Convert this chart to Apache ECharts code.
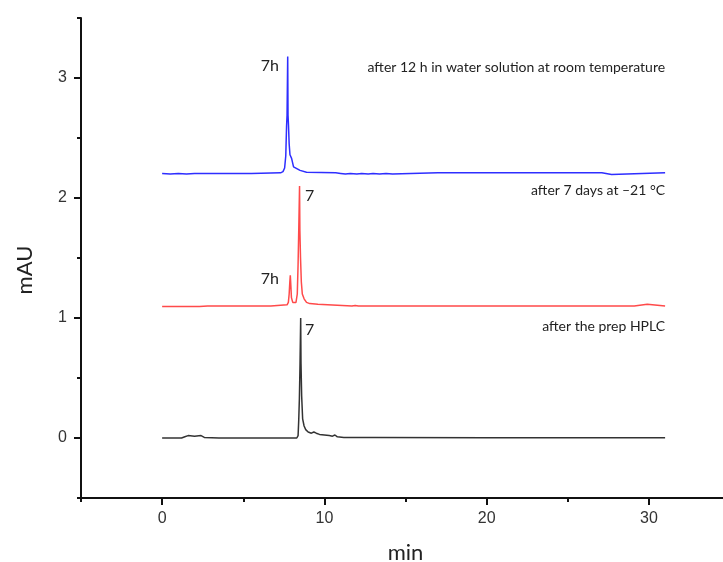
<!DOCTYPE html>
<html>
<head>
<meta charset="utf-8">
<script src="https://cdn.jsdelivr.net/npm/echarts@6/dist/echarts.min.js"></script>
<style>html,body{margin:0;padding:0;background:#fff;overflow:hidden}#c{width:723px;height:562px}</style>
</head>
<body>
<div id="c"></div>
<script>
// ---- data ----
var xMajorTicks = [0, 10, 20, 30];
var xMinorTicks = [-5, 5, 15, 25, 35];
var yMajorTicks = [0, 1, 2, 3];
var yMinorTicks = [-0.5, 0.5, 1.5, 2.5, 3.5];

var blackTrace = [[0,0],[1.2,0],[1.4,0.01],[1.6,0.02],[2.0,0.015],[2.4,0.02],[2.6,0.005],[3.5,0],[8.3,0],[8.38,0.02],[8.42,0.15],[8.46,0.33],[8.5,0.62],[8.54,1.0],[8.56,0.62],[8.6,0.35],[8.66,0.16],[8.75,0.1],[8.85,0.07],[9.0,0.05],[9.2,0.04],[9.35,0.05],[9.42,0.065],[9.5,0.04],[9.7,0.03],[10.0,0.025],[10.3,0.02],[10.5,0.015],[10.65,0.025],[10.8,0.01],[11.2,0.005],[12.9,0.005],[13.0,0.02],[13.1,0.005],[20,0.003],[31,0.003]];

var redTrace = [[0,1.095],[2.3,1.095],[2.4,1.105],[2.8,1.1],[6.7,1.1],[6.8,1.11],[7.7,1.11],[7.78,1.13],[7.83,1.2],[7.87,1.3],[7.9,1.355],[7.93,1.28],[7.97,1.17],[8.05,1.13],[8.15,1.12],[8.25,1.13],[8.33,1.2],[8.38,1.45],[8.42,1.73],[8.47,2.1],[8.49,1.73],[8.53,1.5],[8.58,1.3],[8.64,1.2],[8.75,1.16],[8.9,1.13],[9.1,1.12],[9.6,1.115],[9.7,1.1],[11.7,1.1],[11.8,1.09],[11.9,1.105],[12.0,1.09],[12.1,1.1],[16.6,1.1],[16.7,1.105],[16.8,1.1],[23.2,1.1],[23.3,1.11],[23.4,1.1],[24.0,1.1],[24.1,1.105],[24.2,1.1],[29.1,1.1],[29.2,1.115],[29.9,1.115],[30.0,1.1],[31,1.1]];

var blueTrace = [[0,2.205],[0.5,2.2],[1,2.205],[1.5,2.2],[2,2.205],[3,2.205],[5.5,2.205],[5.6,2.21],[7.3,2.21],[7.45,2.22],[7.55,2.25],[7.62,2.35],[7.67,2.6],[7.7,2.69],[7.74,3.18],[7.76,2.69],[7.79,2.6],[7.83,2.45],[7.88,2.36],[7.98,2.33],[8.1,2.26],[8.2,2.245],[8.5,2.23],[8.9,2.215],[10.7,2.21],[10.8,2.2],[11.0,2.205],[11.3,2.2],[11.6,2.205],[12.0,2.2],[12.3,2.205],[12.7,2.2],[13.0,2.205],[13.4,2.2],[13.8,2.205],[14.2,2.2],[14.3,2.21],[17,2.21],[20,2.21],[27.1,2.21],[27.2,2.195],[27.7,2.195],[27.8,2.21],[31,2.21]];

var traceNames = ['after the prep HPLC', 'after 7 days at \u201321 \u00b0C', 'after 12 h in water solution at room temperature'];
var peakLabels = ['7', '7h', '7', '7h'];

// ---- chart ----
var chart = echarts.init(document.getElementById('c'), null, {renderer: 'canvas', width: 723, height: 562});
var lineCol = '#111';
var lblFont = {fontFamily: 'Liberation Sans', fontSize: 16, color: '#333'};
var annFont = 'Lato';

function lineSeries(name, data, color) {
  return {
    name: name, type: 'line', data: data, showSymbol: false, symbol: 'none',
    xAxisIndex: 0, yAxisIndex: 0,
    lineStyle: {color: color, width: 1.5}, itemStyle: {color: color},
    animation: false, clip: false, z: 3
  };
}
function tickAxis(min, max, interval, pos, values, len) {
  return {
    type: 'value', min: min, max: max, interval: interval, position: pos,
    axisLine: {show: false, onZero: false},
    axisTick: {show: true, length: len, lineStyle: {width: 2, color: lineCol}, customValues: values},
    axisLabel: {show: false}, splitLine: {show: false}
  };
}

var option = {
  animation: false,
  backgroundColor: '#fff',
  grid: {left: 81, top: 18, width: 649, height: 480, containLabel: false, outerBoundsMode: 'none'},
  xAxis: [{
    type: 'value', min: -5, max: 35, interval: 5, position: 'bottom',
    name: 'min', nameLocation: 'middle', nameGap: 44,
    nameTextStyle: {fontFamily: annFont, fontSize: 22, color: '#222'},
    axisLine: {show: true, lineStyle: {color: lineCol, width: 2}, onZero: false},
    axisTick: {show: true, length: 7, lineStyle: {width: 2, color: lineCol}, customValues: xMajorTicks},
    axisLabel: Object.assign({margin: 13, customValues: xMajorTicks}, lblFont),
    splitLine: {show: false}
  },
    tickAxis(-5, 35, 5, 'bottom', xMajorTicks, 7),
    tickAxis(-5, 35, 5, 'bottom', xMinorTicks, 4)
  ],
  yAxis: [{
    type: 'value', min: -0.5, max: 3.5, interval: 0.5, position: 'left',
    name: 'mAU', nameLocation: 'middle', nameGap: 45, nameRotate: 90,
    nameTextStyle: {fontFamily: annFont, fontSize: 22, color: '#222', padding: [0, 24, 0, 0]},
    axisLine: {show: true, lineStyle: {color: lineCol, width: 2}, onZero: false},
    axisTick: {show: true, length: 7, lineStyle: {width: 2, color: lineCol}, customValues: yMajorTicks},
    axisLabel: Object.assign({margin: 14, customValues: yMajorTicks}, lblFont),
    splitLine: {show: false}
  },
    tickAxis(-0.5, 3.5, 0.5, 'left', yMajorTicks, 7),
    tickAxis(-0.5, 3.5, 0.5, 'left', yMinorTicks, 4)
  ],
  series: [
    lineSeries(traceNames[0], blackTrace, '#333333'),
    lineSeries(traceNames[1], redTrace, '#ff4a4a'),
    lineSeries(traceNames[2], blueTrace, '#2e2eff')
  ]
};
chart.setOption(option);

// annotations anchored in data coordinates
function px(x, y) { return chart.convertToPixel({xAxisIndex: 0, yAxisIndex: 0}, [x, y]); }
var anns = [
  {t: traceNames[2], at: [31, 3.09], align: 'right', size: 14},
  {t: traceNames[1], at: [31, 2.06], align: 'right', size: 14},
  {t: traceNames[0], at: [31, 0.93], align: 'right', size: 14},
  {t: peakLabels[1], at: [7.2, 3.1], align: 'right', size: 16},
  {t: peakLabels[0], at: [8.8, 2.02], align: 'left', size: 16},
  {t: peakLabels[3], at: [7.2, 1.33], align: 'right', size: 16},
  {t: peakLabels[2], at: [8.8, 0.9], align: 'left', size: 16}
];
chart.setOption({
  graphic: anns.map(function (a) {
    var p = px(a.at[0], a.at[1]);
    return {type: 'text', x: p[0], y: p[1], z: 10,
      style: {text: a.t, fill: '#222', font: a.size + 'px ' + annFont, textAlign: a.align, textVerticalAlign: 'middle'}};
  })
});
</script>
</body>
</html>
